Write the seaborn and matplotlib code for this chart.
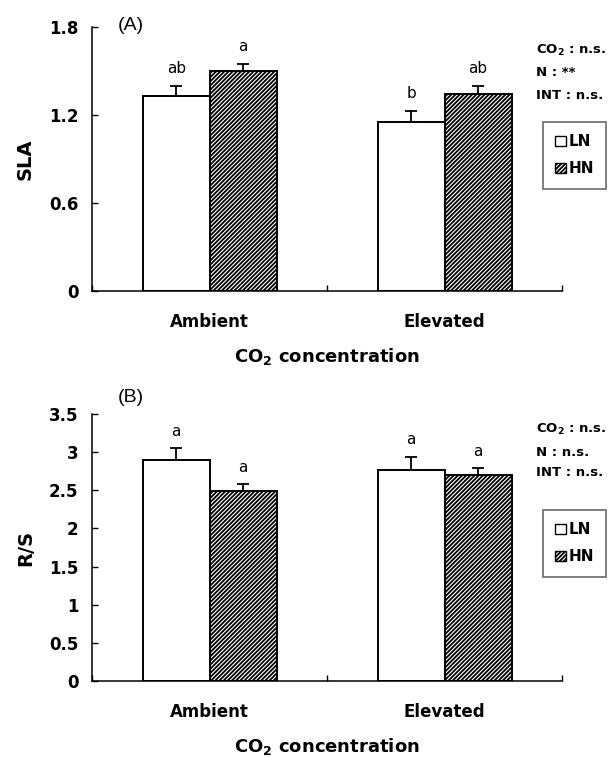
import matplotlib
matplotlib.use("Agg")
import matplotlib.pyplot as plt
import seaborn as sns
import pandas as pd
import numpy as np
from matplotlib.patches import Patch

# ---- data ----
co2_levels = ["Ambient", "Elevated"]
n_levels = ["LN", "HN"]

sla_LN = [1.33, 1.15]
sla_HN = [1.50, 1.34]
sla_err_LN = [0.07, 0.08]
sla_err_HN = [0.05, 0.06]
sla_letters_LN = ["ab", "b"]
sla_letters_HN = ["a", "ab"]
sla_stats = ["CO$_2$ : n.s.", "N : **", "INT : n.s."]
sla_ticks = [0, 0.6, 1.2, 1.8]
sla_ticklabels = ["0", "0.6", "1.2", "1.8"]

rs_LN = [2.90, 2.77]
rs_HN = [2.49, 2.70]
rs_err_LN = [0.15, 0.17]
rs_err_HN = [0.09, 0.09]
rs_letters_LN = ["a", "a"]
rs_letters_HN = ["a", "a"]
rs_stats = ["CO$_2$ : n.s.", "N : n.s.", "INT : n.s."]
rs_ticks = [0, 0.5, 1, 1.5, 2, 2.5, 3, 3.5]
rs_ticklabels = ["0", "0.5", "1", "1.5", "2", "2.5", "3", "3.5"]

sns.set_theme(style="ticks")
plt.rcParams['font.family'] = ['DejaVu Sans']
plt.rcParams['mathtext.fontset'] = 'dejavusans'
plt.rcParams['mathtext.default'] = 'bf'
plt.rcParams['hatch.linewidth'] = 1.3
plt.rcParams['hatch.color'] = 'black'
for k in ['text.color', 'axes.labelcolor', 'xtick.color', 'ytick.color',
          'axes.edgecolor']:
    plt.rcParams[k] = 'black'

HATCH = "////////"

fig = plt.figure(figsize=(6.15, 7.57), dpi=100)
axA = fig.add_axes([0.150, 0.6156, 0.764, 0.3487])
axB = fig.add_axes([0.150, 0.1004, 0.764, 0.3526])


def draw(ax, ln, hn, eln, ehn, let_ln, let_hn, ylabel, ymax, ticks, ticklabels,
         stats, stats_y, leg_y, panel, panel_y):
    df = pd.DataFrame({
        "co2": co2_levels * 2,
        "N": ["LN"] * 2 + ["HN"] * 2,
        "val": ln + hn,
    })
    sns.barplot(data=df, x="co2", y="val", hue="N", order=co2_levels,
                hue_order=n_levels, palette=["white", "white"], width=0.57,
                errorbar=None, edgecolor="black", linewidth=1.4, ax=ax,
                legend=False, saturation=1)
    bars = [p for p in ax.patches]
    errs = eln + ehn
    vals = ln + hn
    letters = let_ln + let_hn
    for i, p in enumerate(bars):
        if i >= 2:
            p.set_hatch(HATCH)
        xc = p.get_x() + p.get_width() / 2
        ax.errorbar([xc], [vals[i]], yerr=[[0], [errs[i]]], fmt="none",
                    ecolor="black", elinewidth=1.3, capsize=4, capthick=1.3,
                    zorder=3)
        ax.text(xc, vals[i] + errs[i] + ymax * 0.035, letters[i], ha="center",
                va="bottom", fontsize=11)
    ax.set_xlim(-0.5, 1.5)
    ax.set_ylim(0, ymax)
    ax.set_yticks(ticks)
    ax.set_yticklabels(ticklabels, fontweight="bold", fontsize=12)
    ax.set_xticks([0, 1])
    ax.set_xticklabels(co2_levels, fontweight="bold", fontsize=12)
    ax.set_xticks([-0.5, 0.5, 1.5], minor=True)
    ax.tick_params(axis="x", which="major", length=0, pad=16)
    ax.tick_params(axis="x", which="minor", length=4, direction="in", width=1)
    ax.tick_params(axis="y", direction="in", length=4, width=1, pad=10)
    ax.set_ylabel(ylabel, fontweight="bold", fontsize=14, labelpad=10)
    ax.set_xlabel("CO$_2$ concentration", fontweight="bold", fontsize=13,
                  labelpad=11)
    for s in ["top", "right"]:
        ax.spines[s].set_visible(False)
    for s in ["left", "bottom"]:
        ax.spines[s].set_linewidth(1.1)
        ax.spines[s].set_color("black")
    for k, t in enumerate(stats):
        fig.text(536 / 615, stats_y[k], t, fontsize=9.5, fontweight="bold",
                 ha="left", va="baseline")
    handles = [Patch(facecolor="white", edgecolor="black", label="LN"),
               Patch(facecolor="white", edgecolor="black", hatch=HATCH,
                     label="HN")]
    leg = fig.legend(handles=handles, loc="upper left",
                     bbox_to_anchor=(543 / 615, leg_y), borderaxespad=0,
                     frameon=True, fancybox=False,
                     edgecolor="#444444", prop={"weight": "bold", "size": 11},
                     handlelength=0.7, handleheight=0.7, handletextpad=0.15,
                     borderpad=0.8, labelspacing=0.8)
    leg.get_frame().set_linewidth(1.2)
    fig.text(131 / 615, panel_y, panel, fontsize=14, ha="center", va="center",
             family="Liberation Sans")


draw(axA, sla_LN, sla_HN, sla_err_LN, sla_err_HN, sla_letters_LN,
     sla_letters_HN, "SLA", 1.8, sla_ticks, sla_ticklabels, sla_stats,
     [1 - 54 / 757, 1 - 76 / 757, 1 - 99 / 757], 1 - 122 / 757, "(A)",
     1 - 25 / 757)
draw(axB, rs_LN, rs_HN, rs_err_LN, rs_err_HN, rs_letters_LN, rs_letters_HN,
     "R/S", 3.5, rs_ticks, rs_ticklabels, rs_stats,
     [1 - 433 / 757, 1 - 456 / 757, 1 - 476 / 757], 1 - 510 / 757, "(B)",
     1 - 397 / 757)

fig.savefig("out.png", dpi=100)
